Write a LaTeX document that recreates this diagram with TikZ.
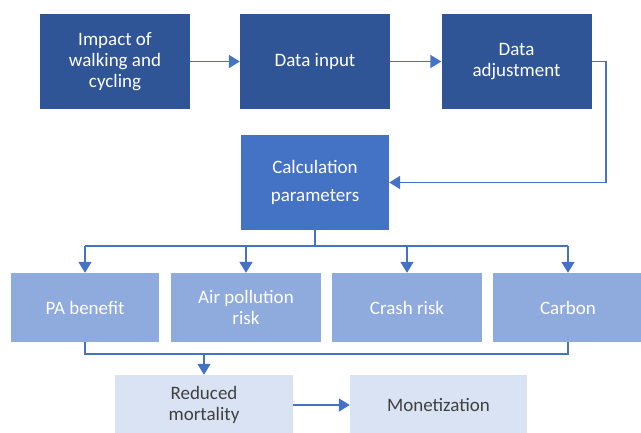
\documentclass[tikz,border=0pt]{standalone}
\usepackage{fontspec}
\setmainfont{Carlito}
\usetikzlibrary{arrows.meta}

\definecolor{topblue}{HTML}{2F5597}
\definecolor{midblue}{HTML}{4472C4}
\definecolor{riskblue}{HTML}{8FAADC}
\definecolor{paleblue}{HTML}{DAE3F3}
\definecolor{darktext}{HTML}{404040}

\tikzset{
  box/.style={rectangle,align=center,inner sep=2pt,text=white,
              font=\fontsize{19}{20.7}\selectfont},
  topbox/.style={box,fill=topblue,minimum width=150pt,minimum height=95pt},
  calcbox/.style={box,fill=midblue,minimum width=148pt,minimum height=95pt},
  riskbox/.style={box,fill=riskblue,minimum width=150pt,minimum height=69pt},
  outbox/.style={box,fill=paleblue,text=darktext,minimum width=178pt,minimum height=60pt},
  link/.style={draw=midblue,line width=1.8pt},
  arr/.style={link,-{Triangle[length=11pt,width=13pt]}}
}

\begin{document}
\begin{tikzpicture}[x=1pt,y=-1pt]
                \useasboundingbox (0,0) rectangle (641,433);

                \node (impact) at (115,61.5) [topbox] {Impact of\\walking and\\cycling};
                \node (input) at (315,61.5) [topbox] {Data input};
                \node (adjust) at (516.5,61.5) [topbox] {Data\\adjustment};

                \node (calc) at (315,182.5) [calcbox] {Calculation\\[8pt]parameters};

                \node (pa) at (85,307.5) [riskbox,minimum width=148pt] {PA benefit};
                \node (air) at (246,307.5) [riskbox] {Air pollution\\risk};
                \node (crash) at (407,307.5) [riskbox] {Crash risk};
                \node (carbon) at (568,307.5) [riskbox] {Carbon};

                \node (reduced) at (204,405) [outbox] {Reduced\\mortality};
                \node (money) at (438.5,405) [outbox,minimum width=177pt] {Monetization};

                \coordinate (bus) at (315,246);
                \coordinate (join) at (204,354);

                \draw[arr] (impact) -- (input);
                \draw[arr] (input) -- (adjust);
                \draw[arr] (adjust.east) -- ++(14,0) |- (calc.east);

                \draw[link] (calc.south) -- (bus);
                \draw[link] (pa.north |- bus) -- (carbon.north |- bus);
                \foreach \n in {pa,air,crash,carbon}
                    \draw[arr] (\n.north |- bus) -- (\n.north);

                \draw[link] (pa.south) -- (pa.south |- join) -- (carbon.south |- join) -- (carbon.south);
                \draw[arr] (join) -- (reduced.north);
                \draw[arr] (reduced) -- (money);
            \end{tikzpicture}
\end{document}
